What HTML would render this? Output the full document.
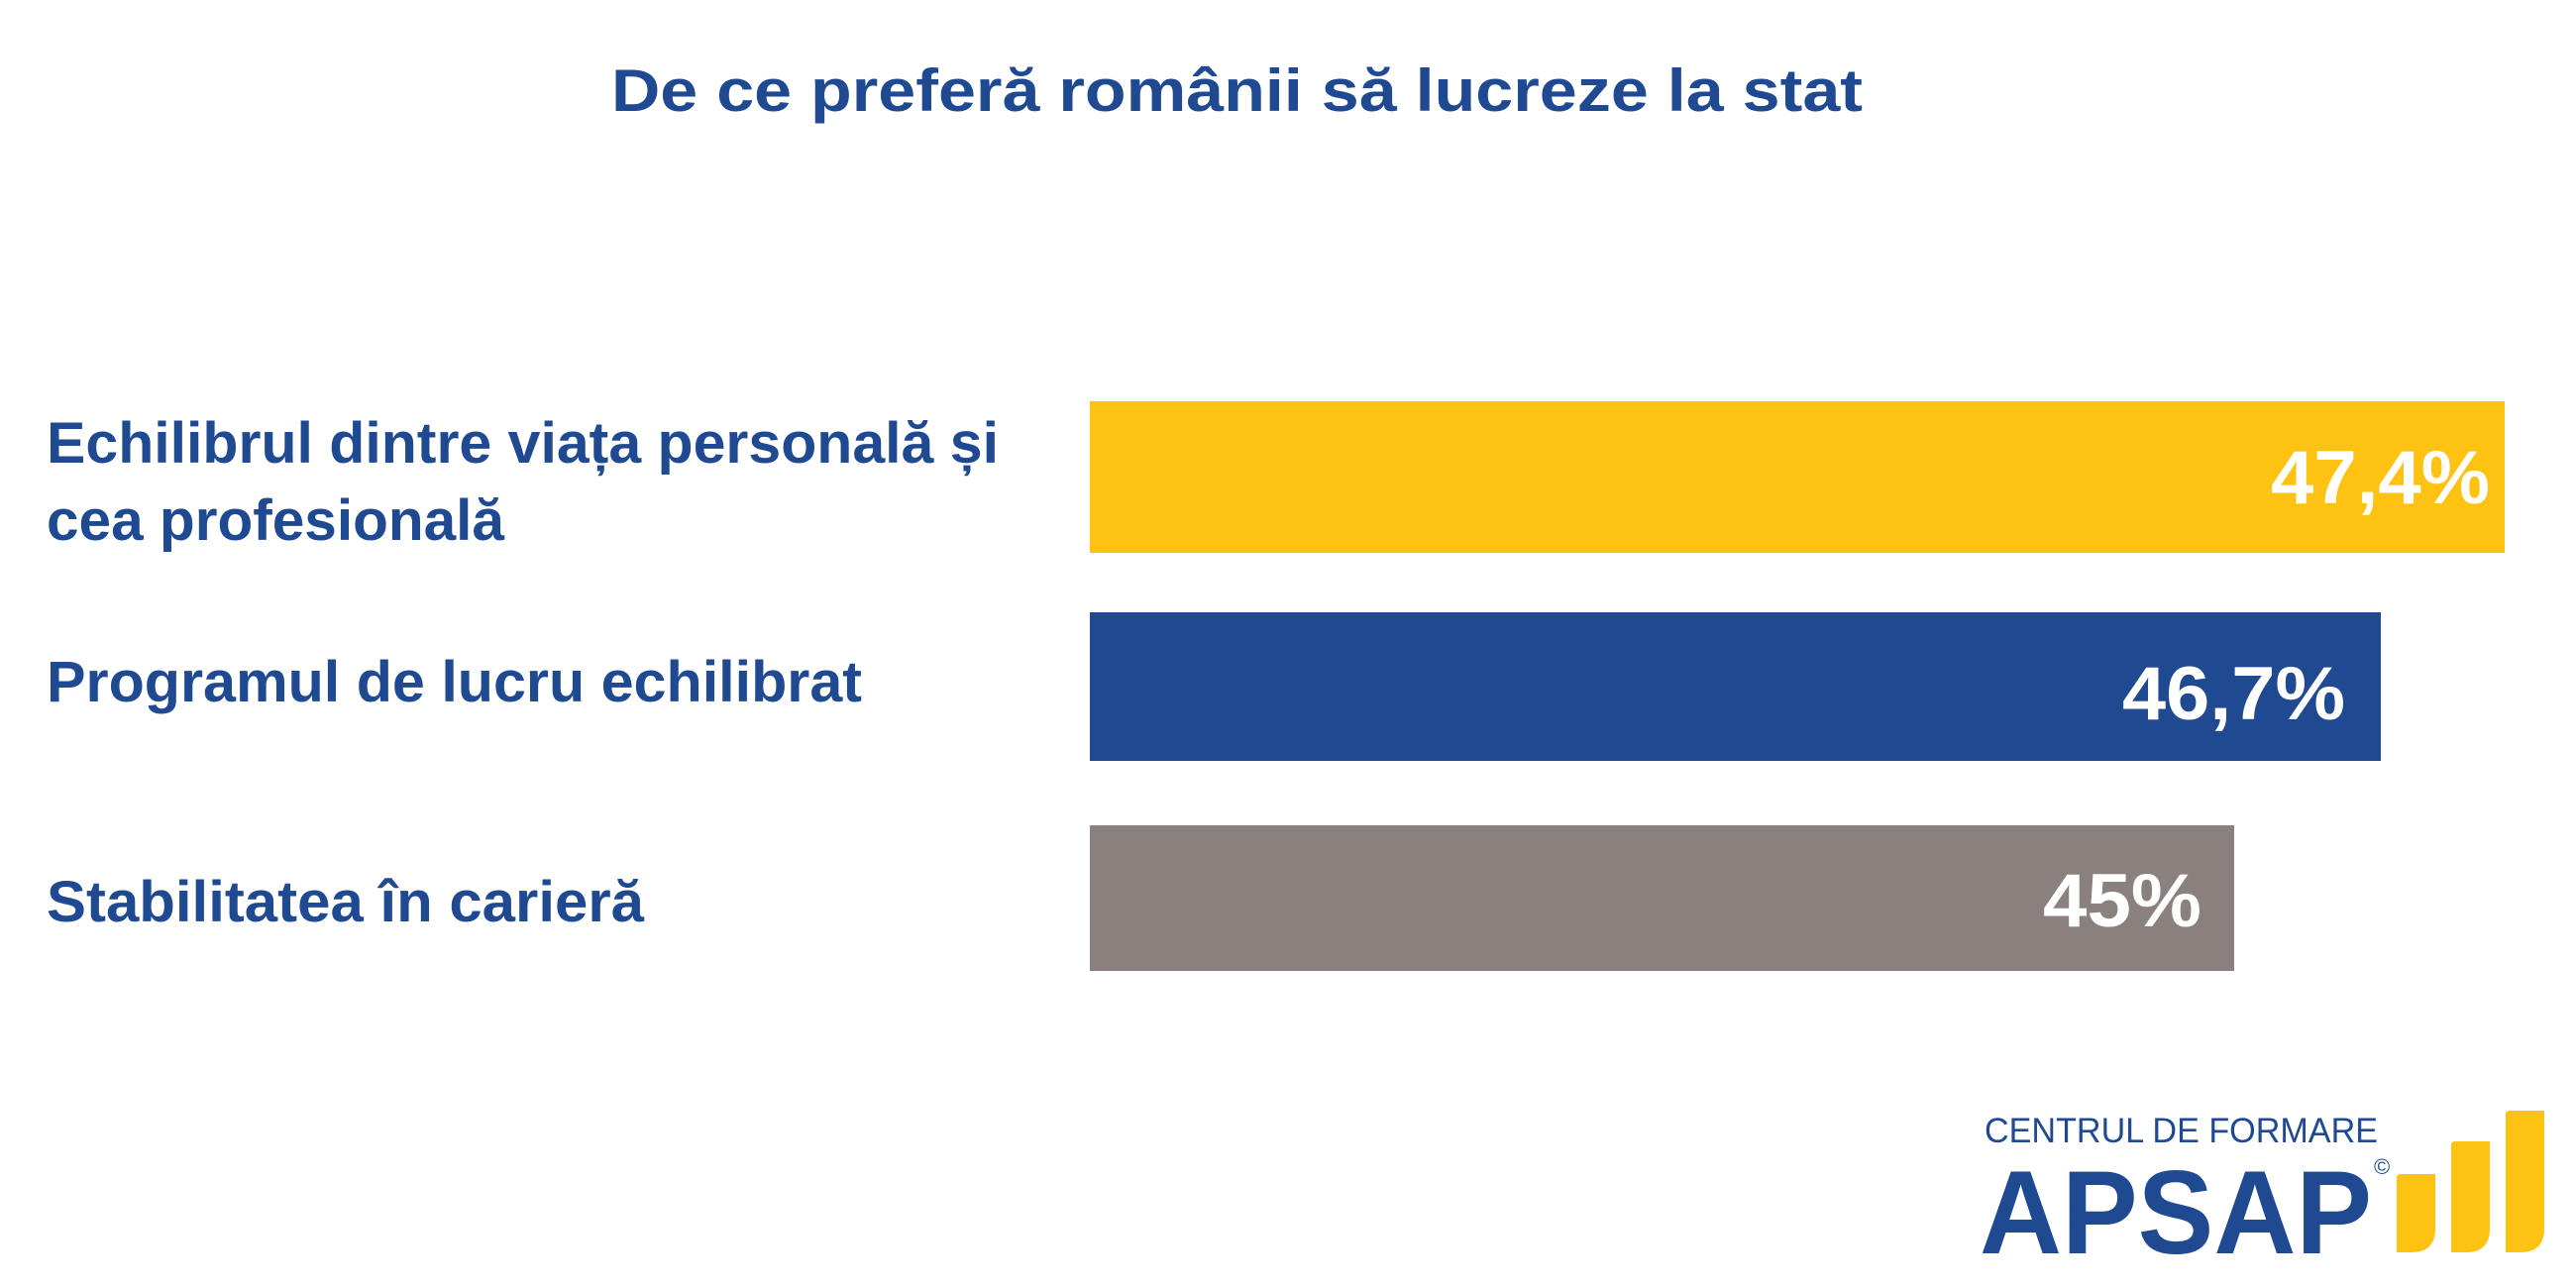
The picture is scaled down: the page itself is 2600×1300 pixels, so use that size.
<!DOCTYPE html>
<html><head><meta charset="utf-8"><style>html,body{margin:0;padding:0;background:#fff}svg{display:block}</style></head>
<body>
<svg width="2600" height="1300" viewBox="0 0 2600 1300" xmlns="http://www.w3.org/2000/svg" font-family="'Liberation Sans', sans-serif" font-weight="bold">
<rect width="2600" height="1300" fill="#fff"/>
<text x="617" y="112" font-size="60" fill="#1f4a91" textLength="1263" lengthAdjust="spacingAndGlyphs">De ce preferă românii să lucreze la stat</text>
<rect x="1100" y="405" width="1428" height="153" fill="#fdc212"/>
<rect x="1100" y="618" width="1303" height="150" fill="#1f4a91"/>
<rect x="1100" y="833" width="1155" height="147" fill="#8a807e"/>
<g fill="#1f4a91" font-size="58">
<text x="47" y="467" textLength="961" lengthAdjust="spacingAndGlyphs">Echilibrul dintre viața personală și</text>
<text x="47" y="545" textLength="462" lengthAdjust="spacingAndGlyphs">cea profesională</text>
<text x="47" y="708" textLength="823" lengthAdjust="spacingAndGlyphs">Programul de lucru echilibrat</text>
<text x="47" y="930" textLength="603" lengthAdjust="spacingAndGlyphs">Stabilitatea în carieră</text>
</g>
<g fill="#fff" font-size="76">
<text x="2292" y="508" textLength="221" lengthAdjust="spacingAndGlyphs">47,4%</text>
<text x="2142" y="726" textLength="225" lengthAdjust="spacingAndGlyphs">46,7%</text>
<text x="2062" y="935" textLength="160" lengthAdjust="spacingAndGlyphs">45%</text>
</g>
<text x="2003" y="1153" font-size="35" font-weight="normal" fill="#1f4a91" textLength="397" lengthAdjust="spacingAndGlyphs">CENTRUL DE FORMARE</text>
<text x="1998" y="1265" font-size="120" font-weight="900" fill="#1f4a91" textLength="396" lengthAdjust="spacingAndGlyphs">APSAP</text>
<text x="2396" y="1185" font-size="22" font-weight="normal" fill="#1f4a91">©</text>
<g fill="#fdc212">
<path d="M2423 1185 H2458 V1240 Q2458 1264 2434 1264 H2419 V1189 Q2419 1185 2423 1185Z"/>
<path d="M2478 1152 H2513 V1240 Q2513 1264 2489 1264 H2474 V1156 Q2474 1152 2478 1152Z"/>
<path d="M2533 1121 H2568 V1240 Q2568 1264 2544 1264 H2529 V1125 Q2529 1121 2533 1121Z"/>
</g>
</svg>
</body></html>
